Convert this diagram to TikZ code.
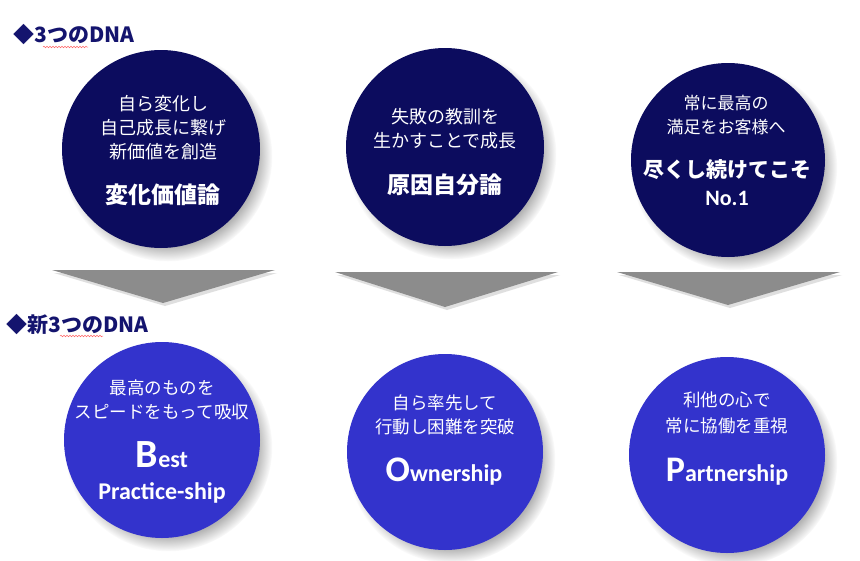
\documentclass[tikz,border=0pt]{standalone}
\usepackage{fontspec}
\setmainfont{Noto Sans CJK JP}
\newfontfamily\jp{Noto Sans CJK JP}
\newfontfamily\lat{Carlito}
\usetikzlibrary{shadows,decorations.pathmorphing}
\definecolor{dnaold}{HTML}{0C0C5E}
\definecolor{dnanew}{HTML}{3333CC}
\definecolor{dnahead}{HTML}{14146E}
\begin{document}
\begin{tikzpicture}
	[x=1pt,y=-1pt,
	old/.style={circle,fill=dnaold,minimum size=198pt,inner sep=0pt,
		circular drop shadow={shadow scale=1.06,shadow xshift=6pt,shadow yshift=-7pt,opacity=.6}},
	new/.style={circle,fill=dnanew,minimum size=196pt,inner sep=0pt,
		circular drop shadow={shadow scale=1.06,shadow xshift=6pt,shadow yshift=-7pt,opacity=.6}},
	small/.style={text=white,align=center,font=\jp\fontsize{18}{24}\selectfont},
	title/.style={text=white,align=center,font=\jp\bfseries\fontsize{23}{28}\selectfont},
	word/.style={text=white,align=center,font=\lat\bfseries\fontsize{24}{28}\selectfont},
	head/.style={anchor=west,text=dnahead,font=\jp\bfseries\fontsize{21}{24}\selectfont},
	down/.style={fill=black!45,drop shadow={shadow xshift=2pt,shadow yshift=-3pt,opacity=.25}},
	wavy/.style={draw=red!60,line width=.5pt,decorate,
		decoration={snake,amplitude=.8pt,segment length=3pt}}]
	\useasboundingbox[fill=white] (0,0) rectangle (860,560);
	\node[head] (headold) at (10,35) {◆3つのDNA};
	\node[head] (headnew) at (3,325) {◆新3つのDNA};
	\draw[wavy] (43,47) -- (88,47);
	\draw[wavy] (60,336) -- (103,336);
	\node[old] (dna1) at (161,149) {};
	\node[old] (dna2) at (445,147) {};
	\node[old,minimum size=194pt] (dna3) at (728,160) {};
	\node[small] (text1) at (163,128) {自ら変化し\\自己成長に繋げ\\新価値を創造};
	\node[title] (name1) at (163,195) {変化価値論};
	\node[small] (text2) at (445,129) {失敗の教訓を\\生かすことで成長};
	\node[title] (name2) at (445,185) {原因自分論};
	\node[small,font=\jp\fontsize{17}{24}\selectfont] (text3) at (726,115) {常に最高の\\満足をお客様へ};
	\node[title,font=\jp\bfseries\fontsize{21}{28}\selectfont] (name3) at (727,170) {尽くし続けてこそ};
	\node[word,font=\lat\bfseries\fontsize{22}{26}\selectfont] (no1) at (727,198) {No.1};
	\fill[down] (52,270) -- (275,270) -- (163,303) -- cycle;
	\fill[down] (335,272) -- (558,272) -- (445,307) -- cycle;
	\fill[down] (617,272) -- (840,272) -- (728,305) -- cycle;
	\node[new] (new1) at (162,440) {};
	\node[new] (new2) at (445,452) {};
	\node[new] (new3) at (727,455) {};
	\node[small,font=\jp\fontsize{17.5}{24}\selectfont] (text4) at (162,400) {最高のものを\\スピードをもって吸収};
	\node[word] (best) at (162,455) {{\fontsize{40}{40}\selectfont B}est};
	\node[word] (practice) at (162,493) {Practice-ship};
	\node[small,font=\jp\fontsize{17.5}{24}\selectfont] (text5) at (445,415) {自ら率先して\\行動し困難を突破};
	\node[word] (owner) at (444,472) {{\fontsize{36}{36}\selectfont O}wnership};
	\node[small,font=\jp\fontsize{17.5}{26}\selectfont] (text6) at (727,413) {利他の心で\\常に協働を重視};
	\node[word] (partner) at (727,472) {{\fontsize{36}{36}\selectfont P}artnership};
\end{tikzpicture}
\end{document}
